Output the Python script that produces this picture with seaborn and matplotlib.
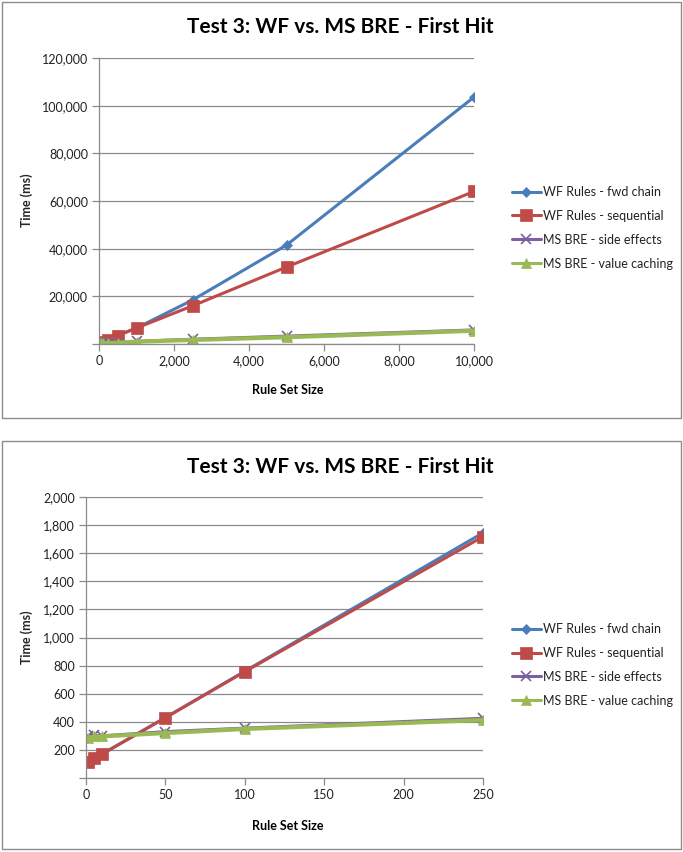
import matplotlib
matplotlib.use("Agg")
import matplotlib.pyplot as plt
import seaborn as sns
import pandas as pd
from matplotlib.patches import Rectangle

sns.set_theme(style="white")
plt.rcParams['font.family'] = ['Lato', 'DejaVu Sans']

series_names = ["WF Rules - fwd chain", "WF Rules - sequential",
                "MS BRE - side effects", "MS BRE - value caching"]

# Top chart data (full range)
x_all = [1, 5, 10, 50, 100, 250, 500, 1000, 2500, 5000, 10000]
fwd_all = [112, 140, 170, 430, 760, 1745, 3600, 6700, 18500, 41500, 103600]
seq_all = [112, 140, 169, 429, 757, 1718, 3550, 6700, 16050, 32300, 64000]
side_all = [300, 305, 300, 330, 355, 425, 550, 1100, 2000, 3300, 5900]
cache_all = [283, 296, 296, 320, 349, 413, 500, 1000, 1700, 2850, 5550]

# Bottom chart data (small rule sets)
x_small = [1, 5, 10, 50, 100, 250]
fwd_small = [112, 140, 170, 430, 760, 1745]
seq_small = [112, 140, 169, 429, 757, 1718]
side_small = [300, 305, 300, 330, 355, 425]
cache_small = [283, 296, 296, 320, 349, 413]

top_xticks = [0, 2000, 4000, 6000, 8000, 10000]
top_yticks = [0, 20000, 40000, 60000, 80000, 100000, 120000]
bot_xticks = [0, 50, 100, 150, 200, 250]
bot_yticks = [0, 200, 400, 600, 800, 1000, 1200, 1400, 1600, 1800, 2000]

title_text = "Test 3: WF vs. MS BRE - First Hit"
xlabel_text = "Rule Set Size"
ylabel_text = "Time (ms)"

colors = ["#4A7EBB", "#BE4B48", "#7D60A0", "#98B954"]
markers = ["D", "s", "x", "^"]
msizes = [5, 8, 7, 7]
lwidths = [2.2, 2.2, 2.2, 3.0]

W, H = 683, 852
fig = plt.figure(figsize=(W / 100, H / 100), dpi=100)
fig.patch.set_facecolor("white")

def fx(px):
    return px / W

def fy(py):
    return 1 - py / H

# chart borders
for (y0, y1) in [(2, 418), (441, 849)]:
    fig.patches.append(Rectangle((fx(2), fy(y1)), fx(679), (y1 - y0) / H,
                                 transform=fig.transFigure, fill=False,
                                 edgecolor="#8C8C8C", linewidth=1.0))

def make_long(xs, ys_list):
    rows = []
    for name, ys in zip(series_names, ys_list):
        for xv, yv in zip(xs, ys):
            rows.append({"x": xv, "y": yv, "series": name})
    return pd.DataFrame(rows)

def draw(ax, df, xticks, yticks, xlim, ylim, title_y, xlabel_y, legend_top):
    for i, name in enumerate(series_names):
        sub = df[df["series"] == name]
        sns.lineplot(data=sub, x="x", y="y", ax=ax, color=colors[i],
                     marker=markers[i], markersize=msizes[i],
                     markeredgecolor=colors[i],
                     markeredgewidth=1.2 if markers[i] == "x" else 0.5,
                     linewidth=lwidths[i], label=name, estimator=None, sort=False)
    ax.set_xlim(*xlim)
    ax.set_ylim(*ylim)
    ax.set_xticks(xticks)
    ax.set_xticklabels([f"{t:,}" for t in xticks], fontsize=9, color="#222222")
    ax.set_yticks(yticks)
    ax.set_yticklabels(["" if t == 0 else f"{t:,}" for t in yticks], fontsize=9, color="#222222")
    ax.yaxis.grid(True, color="#8A8A8A", linewidth=0.9)
    ax.xaxis.grid(False)
    for s in ["top", "right"]:
        ax.spines[s].set_visible(False)
    for s in ["left", "bottom"]:
        ax.spines[s].set_color("#8A8A8A")
        ax.spines[s].set_linewidth(0.9)
    ax.tick_params(axis="both", which="major", direction="out", length=5,
                   width=0.9, color="#8A8A8A", left=True, bottom=True, pad=3)
    ax.set_xlabel("")
    ax.set_ylabel("")
    ax.set_axisbelow(True)
    fig.text(fx(340), fy(title_y), title_text, ha="center", va="center",
             fontsize=15, fontweight="bold", color="black")
    fig.text(fx(288), fy(xlabel_y), xlabel_text, ha="center", va="center",
             fontsize=9, fontweight="bold", color="black")
    leg = ax.legend(loc="upper left", bbox_to_anchor=(fx(512), fy(legend_top)),
                    bbox_transform=fig.transFigure, frameon=False, fontsize=9,
                    handlelength=2.3, handletextpad=0.2, labelspacing=0.95,
                    borderpad=0, borderaxespad=0)
    for t in leg.get_texts():
        t.set_color("#222222")
    for h in leg.get_lines():
        h.set_linewidth(2.2)

# Top chart
ax1 = fig.add_axes([fx(99), fy(344), fx(474 - 99), (344 - 58) / H])
df_top = make_long(x_all, [fwd_all, seq_all, side_all, cache_all])
draw(ax1, df_top, top_xticks, top_yticks, (0, 10000), (0, 120000), 27, 390, 186)
fig.text(fx(27), fy(200), ylabel_text, ha="center", va="center", rotation=90,
         fontsize=9, fontweight="bold")

# Bottom chart
ax2 = fig.add_axes([fx(86), fy(778), fx(483 - 86), (778 - 497) / H])
df_bot = make_long(x_small, [fwd_small, seq_small, side_small, cache_small])
draw(ax2, df_bot, bot_xticks, bot_yticks, (0, 250), (0, 2000), 467, 826, 623)
fig.text(fx(27), fy(637), ylabel_text, ha="center", va="center", rotation=90,
         fontsize=9, fontweight="bold")

fig.savefig("out.png", dpi=100, facecolor="white")
